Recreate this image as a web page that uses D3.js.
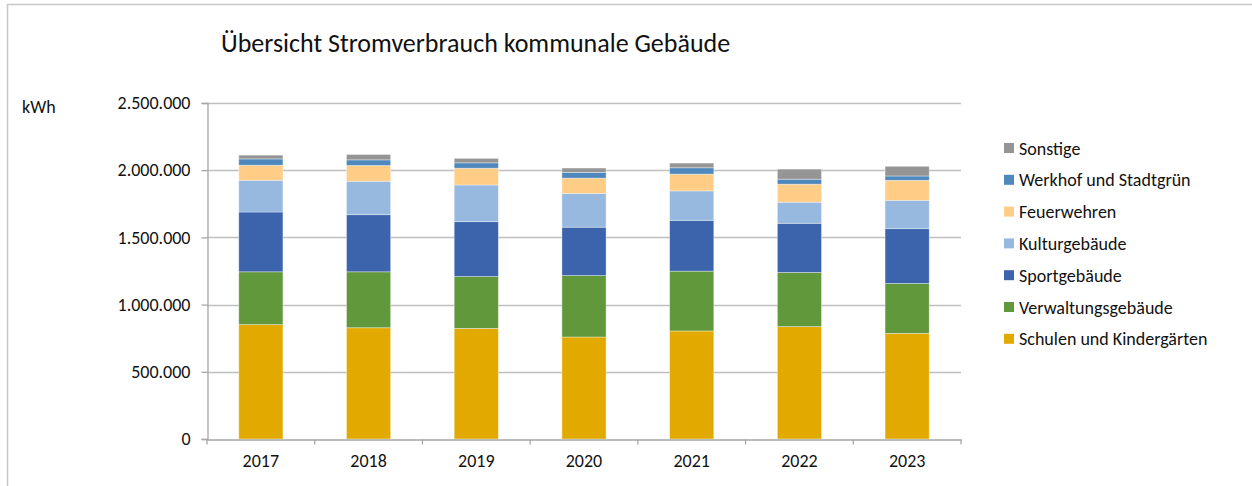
<!DOCTYPE html>
<html>
<head>
<meta charset="utf-8">
<script src="https://cdn.jsdelivr.net/npm/d3@7"></script>
<style>
	body { margin: 0; background: #fff; }
	svg text { font-family: Calibri, Carlito, "Liberation Sans", Arial, sans-serif; fill: #111; }
</style>
</head>
<body>
<div id="chart"></div>
<script>
// Data (kWh)
var years = ["2017", "2018", "2019", "2020", "2021", "2022", "2023"];
var seriesNames = ["Schulen und Kindergärten", "Verwaltungsgebäude", "Sportgebäude", "Kulturgebäude", "Feuerwehren", "Werkhof und Stadtgrün", "Sonstige"];
var seriesColors = ["#e2aa00", "#62983c", "#3b64ad", "#97b8df", "#ffcd85", "#4e88bc", "#959595"];

var schulen    = [851000, 828000, 823000, 759000, 804000, 836000, 786000];
var verwaltung = [393000, 416000, 386000, 457000, 445000, 403000, 371000];
var sport      = [445000, 425000, 408000, 360000, 378000, 366000, 408000];
var kultur     = [236000, 249000, 273000, 251000, 219000, 157000, 211000];
var feuerwehr  = [112000, 117000, 125000, 114000, 125000, 134000, 149000];
var werkhof    = [ 47000,  42000,  40000,  43000,  47000,  37000,  32000];
var sonstige   = [ 28000,  40000,  33000,  32000,  35000,  75000,  72000];

var yTicks = [0, 500000, 1000000, 1500000, 2000000, 2500000];

var width = 1252, height = 486;
var margin = { left: 207, right: 291, top: 103, bottom: 47 };

var svg = d3.select("#chart").append("svg")
	.attr("width", width)
	.attr("height", height);

// Outer frame (only top and left edges are visible in the picture)
svg.append("path")
	.attr("d", "M7.5," + height + "V4.5H" + width)
	.attr("fill", "none")
	.attr("stroke", "#c8c8c8")
	.attr("stroke-width", 1.5);

// Build a table for the stack
var cols = [schulen, verwaltung, sport, kultur, feuerwehr, werkhof, sonstige];
var table = years.map(function (y, i) {
	var row = { year: y };
	seriesNames.forEach(function (s, k) { row[s] = cols[k][i]; });
	return row;
});
var stacked = d3.stack().keys(seriesNames)(table);

var x = d3.scaleBand()
	.domain(years)
	.range([margin.left, width - margin.right])
	.paddingInner(0.59)
	.paddingOuter(0.295);

var y = d3.scaleLinear()
	.domain([0, 2500000])
	.range([height - margin.bottom, margin.top]);

var fmt = function (d) { return d3.format(",")(d).replace(/,/g, "."); };

// Gridlines
svg.append("g")
	.selectAll("line")
	.data(yTicks.slice(1))
	.join("line")
	.attr("x1", margin.left)
	.attr("x2", width - margin.right)
	.attr("y1", function (d) { return Math.round(y(d)) + 0.5; })
	.attr("y2", function (d) { return Math.round(y(d)) + 0.5; })
	.attr("stroke", "#bfbfbf")
	.attr("stroke-width", 1.3);

// Bars
svg.append("g")
	.selectAll("g")
	.data(stacked)
	.join("g")
	.attr("fill", function (d, i) { return seriesColors[i]; })
	.selectAll("rect")
	.data(function (d) { return d; })
	.join("rect")
	.attr("x", function (d) { return x(d.data.year); })
	.attr("width", x.bandwidth())
	.attr("y", function (d) { return y(d[1]); })
	.attr("height", function (d) { return y(d[0]) - y(d[1]); })
	.attr("stroke", "#ffffff")
	.attr("stroke-opacity", 0.45)
	.attr("stroke-width", 0.8);

// Y axis
var yAxis = svg.append("g")
	.attr("transform", "translate(" + (margin.left + 0.5) + ",0)")
	.call(d3.axisLeft(y).tickValues(yTicks).tickFormat(fmt).tickSize(6).tickPadding(11));
yAxis.select(".domain").attr("stroke", "#a6a6a6").attr("stroke-width", 1.3);
yAxis.selectAll(".tick line").attr("stroke", "#a6a6a6").attr("stroke-width", 1.3);
yAxis.selectAll("text").attr("font-size", "18px").attr("fill", "#111");

// X axis
var xAxis = svg.append("g")
	.attr("transform", "translate(0," + (height - margin.bottom + 0.5) + ")")
	.call(d3.axisBottom(x).tickSize(0).tickPadding(15));
xAxis.select(".domain").attr("stroke", "#a6a6a6").attr("stroke-width", 1.3);
xAxis.selectAll("text").attr("font-size", "18px").attr("fill", "#111");

// category boundary ticks
var bounds = years.map(function (d, i) { return margin.left + i * x.step(); });
bounds.push(width - margin.right);
xAxis.selectAll(".bound")
	.data(bounds)
	.join("line")
	.attr("class", "bound")
	.attr("x1", function (d) { return d; })
	.attr("x2", function (d) { return d; })
	.attr("y1", 0)
	.attr("y2", 5)
	.attr("stroke", "#a6a6a6")
	.attr("stroke-width", 1.3);

// Title and unit label
svg.append("text")
	.attr("x", 221)
	.attr("y", 51.5)
	.attr("font-size", "26px")
	.text("Übersicht Stromverbrauch kommunale Gebäude");

svg.append("text")
	.attr("x", 22)
	.attr("y", 113)
	.attr("font-size", "18px")
	.text("kWh");

// Legend (reverse order, top = Sonstige)
var legend = svg.append("g")
	.selectAll("g")
	.data(seriesNames.slice().reverse())
	.join("g")
	.attr("transform", function (d, i) { return "translate(1004," + (148 + i * 31.8) + ")"; });

legend.append("rect")
	.attr("x", 0)
	.attr("y", -5)
	.attr("width", 10)
	.attr("height", 10)
	.attr("fill", function (d) { return seriesColors[seriesNames.indexOf(d)]; });

legend.append("text")
	.attr("x", 15)
	.attr("y", 6.5)
	.attr("font-size", "18px")
	.text(function (d) { return d; });
</script>
</body>
</html>
